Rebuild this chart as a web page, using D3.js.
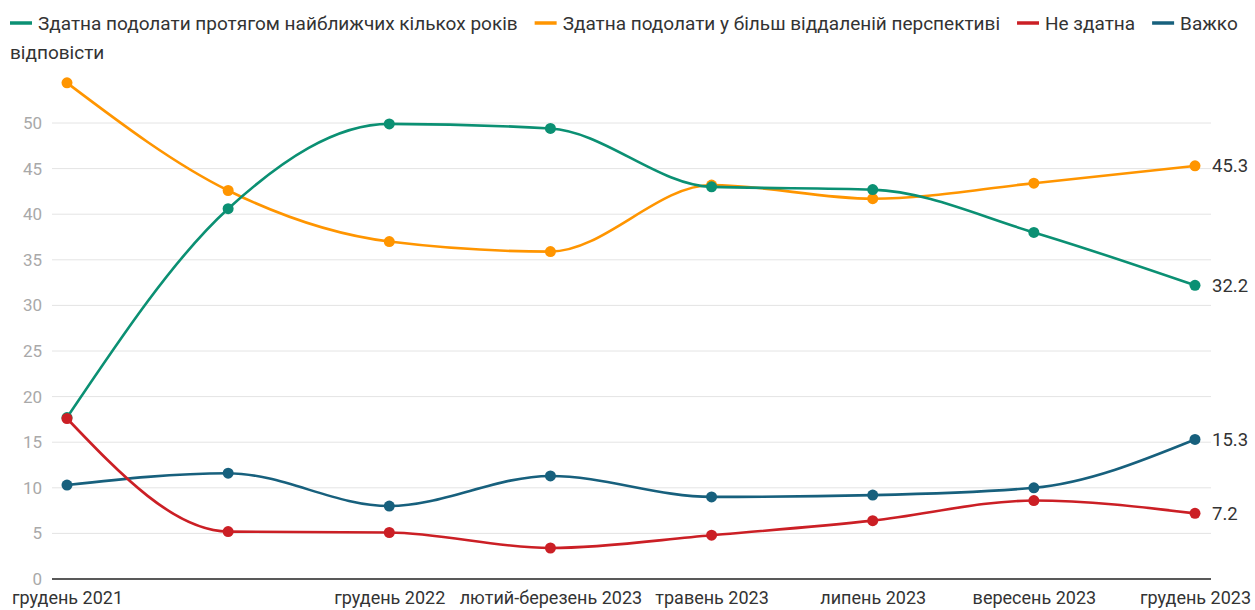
<!DOCTYPE html>
<html><head><meta charset="utf-8">
<script src="https://cdn.jsdelivr.net/npm/d3@7"></script>
<style>body{margin:0;background:#fff;font-family:Roboto,"Noto Sans",sans-serif}</style>
</head><body><svg id="c" width="1255" height="610"></svg>
<script>
const categories = ["грудень 2021","","грудень 2022","лютий-березень 2023","травень 2023","липень 2023","вересень 2023","грудень 2023"];
const seriesNames = ["Здатна подолати протягом найближчих кількох років","Здатна подолати у більш віддаленій перспективі","Не здатна","Важко відповісти"];
const greenValues = [17.7,40.6,49.9,49.4,43.0,42.7,38.0,32.2];
const orangeValues = [54.4,42.6,37.0,35.9,43.2,41.7,43.4,45.3];
const redValues = [17.6,5.2,5.1,3.4,4.8,6.4,8.6,7.2];
const blueValues = [10.3,11.6,8.0,11.3,9.0,9.2,10.0,15.3];
const yTicks = [0,5,10,15,20,25,30,35,40,45,50];
const colors = ["#0b9073","#ff9500","#cb1f25","#17607d"];

const svg = d3.select("#c");
const x = d3.scalePoint().domain(d3.range(categories.length)).range([67,1195]);
const y = d3.scaleLinear().domain([0,50]).range([579,123]);
const gridL = 52, gridR = 1211;

svg.append("g").selectAll("line").data(yTicks.filter(d=>d>0)).join("line")
  .attr("x1",gridL).attr("x2",gridR).attr("y1",d=>y(d)).attr("y2",d=>y(d))
  .attr("stroke","#e4e4e4").attr("stroke-width",1);
svg.append("g").selectAll("text").data(yTicks).join("text")
  .attr("x",42).attr("y",d=>y(d)).attr("dy","0.35em").attr("text-anchor","end")
  .attr("font-size",17).attr("fill","#a9a9a9").text(d=>d);
svg.append("line").attr("x1",gridL).attr("x2",gridR).attr("y1",y(0)).attr("y2",y(0))
  .attr("stroke","#222").attr("stroke-width",1.5);
const xAxis = d3.axisBottom(x).tickSize(0).tickFormat(i=>categories[i]);
const gx = svg.append("g").attr("transform",`translate(0,${y(0)})`).call(xAxis);
gx.select(".domain").remove();
gx.selectAll("text").attr("font-size",18).attr("fill","#333").attr("font-family","Roboto").attr("dy","1.05em").attr("y",6);

const series = [
  {name:seriesNames[1], values:orangeValues, color:colors[1]},
  {name:seriesNames[0], values:greenValues, color:colors[0]},
  {name:seriesNames[3], values:blueValues, color:colors[3]},
  {name:seriesNames[2], values:redValues, color:colors[2]},
];
const line = d3.line().x((d,i)=>x(i)).y(d=>y(d)).curve(d3.curveMonotoneX);
series.forEach(s=>{
  const g = svg.append("g");
  g.append("path").attr("d",line(s.values)).attr("fill","none").attr("stroke",s.color).attr("stroke-width",2.6);
  g.selectAll("circle").data(s.values).join("circle")
    .attr("cx",(d,i)=>x(i)).attr("cy",d=>y(d)).attr("r",5.5).attr("fill",s.color);
  const last = s.values.length-1;
  svg.append("text").attr("x",x(last)+17).attr("y",y(s.values[last])).attr("dy","0.35em")
    .attr("font-size",18.5).attr("fill","#333").text(s.values[last].toFixed(1));
});

const lg = svg.append("g");
let lx = 10;
[0,1,2,3].forEach(k=>{
  lg.append("line").attr("x1",lx).attr("x2",lx+22).attr("y1",23).attr("y2",23)
    .attr("stroke",colors[k]).attr("stroke-width",3.5);
  if(k===3){
    const parts = seriesNames[3].split(" ");
    lg.append("text").attr("x",lx+28).attr("y",23).attr("dy","0.35em").attr("font-size",19).attr("fill","#333").text(parts[0]);
    lg.append("text").attr("x",10).attr("y",52).attr("dy","0.35em").attr("font-size",19).attr("fill","#333").text(parts.slice(1).join(" "));
  } else {
    const t = lg.append("text").attr("x",lx+28).attr("y",23).attr("dy","0.35em").attr("font-size",19).attr("fill","#333").text(seriesNames[k]);
    lx += 28 + t.node().getComputedTextLength() + 17;
  }
});
</script></body></html>
